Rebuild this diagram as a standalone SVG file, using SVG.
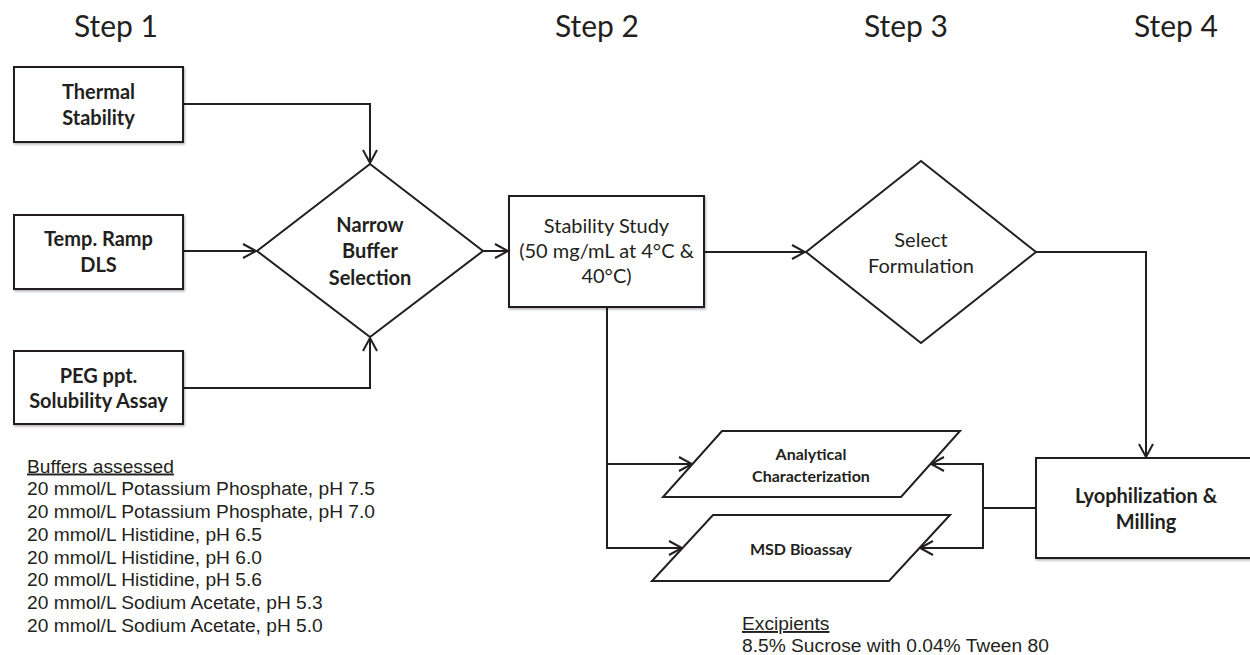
<svg xmlns="http://www.w3.org/2000/svg" width="1250" height="655" viewBox="0 0 1250 655">
<defs>
<style>
.bx{fill:#fff;stroke:#231f20;stroke-width:2}
.ln{fill:none;stroke:#231f20;stroke-width:2}
.step{font-family:Lato,"Liberation Sans",sans-serif;font-size:30px;fill:#231f20;text-anchor:middle}
.b20{font-family:Lato,"Liberation Sans",sans-serif;font-weight:bold;font-size:20px;fill:#231f20;text-anchor:middle}
.r20{font-family:Lato,"Liberation Sans",sans-serif;font-size:20px;fill:#231f20;text-anchor:middle}
.b16{font-family:Lato,"Liberation Sans",sans-serif;font-weight:bold;font-size:16px;fill:#231f20;text-anchor:middle}
.note{font-family:"Liberation Sans",Arial,sans-serif;font-size:19.2px;fill:#231f20}
</style>
<filter id="sh" x="-10%" y="-10%" width="130%" height="140%">
<feDropShadow dx="1" dy="1.5" stdDeviation="1" flood-color="#000" flood-opacity="0.3"/>
</filter>
<marker id="ar" markerUnits="userSpaceOnUse" markerWidth="16" markerHeight="16" viewBox="0 0 16 16" refX="14" refY="8" orient="auto">
<path d="M1,1 L14,8 L1,15" fill="none" stroke="#231f20" stroke-width="2"/>
</marker>
</defs>
<rect width="1250" height="655" fill="#fff"/>

<g id="steps">
<text class="step" x="116" y="37">Step 1</text>
<text class="step" x="597" y="37">Step 2</text>
<text class="step" x="906" y="37">Step 3</text>
<text class="step" x="1176" y="37">Step 4</text>
</g>

<g id="connectors">
<path class="ln" d="M183,104 H370 V163" marker-end="url(#ar)"/>
<path class="ln" d="M183,251 H256" marker-end="url(#ar)"/>
<path class="ln" d="M183,388 H370 V338" marker-end="url(#ar)"/>
<path class="ln" d="M483,251 H508" marker-end="url(#ar)"/>
<path class="ln" d="M704,252 H805" marker-end="url(#ar)"/>
<path class="ln" d="M1036,252 H1146 V457" marker-end="url(#ar)"/>
<path class="ln" d="M607,307 V464 H692" marker-end="url(#ar)"/>
<path class="ln" d="M607,464 V548 H682" marker-end="url(#ar)"/>
<path class="ln" d="M1036,508 H983 V464 H931" marker-end="url(#ar)"/>
<path class="ln" d="M983,508 V548 H920" marker-end="url(#ar)"/>
</g>

<g id="thermal">
<rect class="bx" x="14" y="67" width="169" height="75" filter="url(#sh)"/>
<text class="b20" x="98.5" y="99">Thermal</text>
<text class="b20" x="98.5" y="125">Stability</text>
</g>

<g id="temp-ramp">
<rect class="bx" x="14" y="215" width="169" height="74" filter="url(#sh)"/>
<text class="b20" x="98.5" y="246">Temp. Ramp</text>
<text class="b20" x="98.5" y="272">DLS</text>
</g>

<g id="peg">
<rect class="bx" x="14" y="351" width="169" height="73" filter="url(#sh)"/>
<text class="b20" x="98.5" y="383">PEG ppt.</text>
<text class="b20" x="98.5" y="408">Solubility Assay</text>
</g>

<g id="narrow-buffer">
<polygon class="bx" points="370,164 483,251 370,337 257,251"/>
<text class="b20" x="370" y="232">Narrow</text>
<text class="b20" x="370" y="258">Buffer</text>
<text class="b20" x="370" y="285">Selection</text>
</g>

<g id="stability-study">
<rect class="bx" x="509" y="196" width="195" height="111" filter="url(#sh)"/>
<text class="r20" x="606.5" y="233">Stability Study</text>
<text class="r20" x="606.5" y="258">(50 mg/mL at 4°C &amp;</text>
<text class="r20" x="606.5" y="283">40°C)</text>
</g>

<g id="select-formulation">
<polygon class="bx" points="921,161 1036,252 921,343 806,252"/>
<text class="r20" x="921" y="247">Select</text>
<text class="r20" x="921" y="273">Formulation</text>
</g>

<g id="lyophilization">
<rect class="bx" x="1036" y="458" width="220" height="100" filter="url(#sh)"/>
<text class="b20" x="1146" y="503">Lyophilization &amp;</text>
<text class="b20" x="1146" y="529">Milling</text>
</g>

<g id="analytical">
<polygon class="bx" points="722,431 960,431 901,497 663,497"/>
<text class="b16" x="811" y="460">Analytical</text>
<text class="b16" x="811" y="482">Characterization</text>
</g>

<g id="msd">
<polygon class="bx" points="713,515 950,515 889,581 652,581"/>
<text class="b16" x="801" y="555">MSD Bioassay</text>
</g>

<g id="buffers-note">
<text class="note" x="27" y="472.5" text-decoration="underline">Buffers assessed</text>
<text class="note" x="27" y="494.5">20 mmol/L Potassium Phosphate, pH 7.5</text>
<text class="note" x="27" y="517.5">20 mmol/L Potassium Phosphate, pH 7.0</text>
<text class="note" x="27" y="540.5">20 mmol/L Histidine, pH 6.5</text>
<text class="note" x="27" y="563.5">20 mmol/L Histidine, pH 6.0</text>
<text class="note" x="27" y="586">20 mmol/L Histidine, pH 5.6</text>
<text class="note" x="27" y="609">20 mmol/L Sodium Acetate, pH 5.3</text>
<text class="note" x="27" y="632">20 mmol/L Sodium Acetate, pH 5.0</text>
</g>

<g id="excipients-note">
<text class="note" x="742" y="630" text-decoration="underline">Excipients</text>
<text class="note" x="742" y="652">8.5% Sucrose with 0.04% Tween 80</text>
</g>
</svg>
